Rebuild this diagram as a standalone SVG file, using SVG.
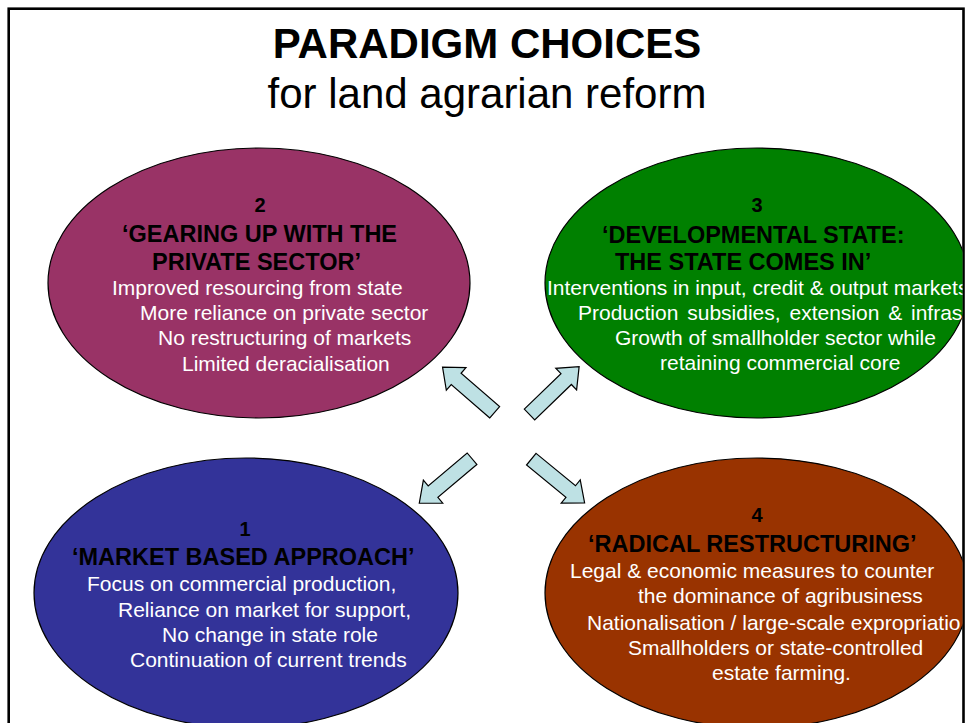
<svg xmlns="http://www.w3.org/2000/svg" width="966" height="723" viewBox="0 0 966 723">
<style>
  .ell { stroke: #000; stroke-width: 1.2; }
  .num { font-family: "Liberation Sans", Arial, sans-serif; font-weight: bold; font-size: 20px; fill: #000; text-anchor: middle; }
  .head { font-family: "Liberation Sans", Arial, sans-serif; font-weight: bold; font-size: 23.5px; fill: #000; }
  .body { font-family: "Liberation Sans", Arial, sans-serif; font-size: 21px; fill: #fff; }
  .arrow { fill: #BEE1E4; stroke: #000; stroke-width: 1.2; stroke-linejoin: miter; }
  .title { font-family: "Liberation Sans", Arial, sans-serif; font-size: 42px; fill: #000; text-anchor: middle; }
</style>
<defs>
  <clipPath id="frameClip"><rect x="0" y="0" width="962.5" height="723"/></clipPath>
  <polygon id="blockArrow" points="0,-7.5 51,-7.5 51,-15 69,0 51,15 51,7.5 0,7.5"/>
</defs>
<rect x="0" y="0" width="966" height="723" fill="#fff"/>
<rect id="frame" x="8.7" y="8.7" width="954.8" height="760" fill="none" stroke="#000" stroke-width="2.6"/>

<g id="title">
  <text class="title" x="487" y="58" font-weight="bold">PARADIGM CHOICES</text>
  <text class="title" x="487" y="108">for land agrarian reform</text>
</g>

<g clip-path="url(#frameClip)">
<g id="node-2">
  <ellipse class="ell" cx="259" cy="283" rx="211" ry="135" fill="#993366"/>
  <text class="num" x="260" y="212">2</text>
  <text class="head" x="122" y="242">‘GEARING UP WITH THE</text>
  <text class="head" x="152" y="270">PRIVATE SECTOR’</text>
  <text class="body" x="112" y="295">Improved resourcing from state</text>
  <text class="body" x="140" y="320">More reliance on private sector</text>
  <text class="body" x="158" y="345">No restructuring of markets</text>
  <text class="body" x="182" y="371">Limited deracialisation</text>
</g>

<g id="node-3">
  <ellipse class="ell" cx="757" cy="283" rx="212" ry="135" fill="#008000"/>
  <text class="num" x="757" y="212">3</text>
  <text class="head" x="602" y="243">‘DEVELOPMENTAL STATE:</text>
  <text class="head" x="615" y="270">THE STATE COMES IN’</text>
  <text class="body" x="547" y="295">Interventions in input, credit &amp; output markets</text>
  <text class="body" x="578" y="320" word-spacing="3">Production subsidies, extension &amp; infras</text>
  <text class="body" x="615" y="345">Growth of smallholder sector while</text>
  <text class="body" x="660" y="370">retaining commercial core</text>
</g>

<g id="node-1">
  <ellipse class="ell" cx="246" cy="593" rx="212" ry="135" fill="#333399"/>
  <text class="num" x="245" y="536">1</text>
  <text class="head" x="72" y="565">‘MARKET BASED APPROACH’</text>
  <text class="body" x="87" y="591">Focus on commercial production,</text>
  <text class="body" x="118" y="617">Reliance on market for support,</text>
  <text class="body" x="162" y="642">No change in state role</text>
  <text class="body" x="130" y="667">Continuation of current trends</text>
</g>

<g id="node-4">
  <ellipse class="ell" cx="757" cy="593" rx="212" ry="135" fill="#993300"/>
  <text class="num" x="757" y="522">4</text>
  <text class="head" x="588" y="552">‘RADICAL RESTRUCTURING’</text>
  <text class="body" x="570" y="578">Legal &amp; economic measures to counter</text>
  <text class="body" x="638" y="603">the dominance of agribusiness</text>
  <text class="body" x="587" y="630">Nationalisation / large-scale expropriatio</text>
  <text class="body" x="628" y="655">Smallholders or state-controlled</text>
  <text class="body" x="712" y="680">estate farming.</text>
</g>
</g>

<g id="connectors">
  <use href="#blockArrow" class="arrow" transform="translate(494.7,412.3) rotate(220.9)"/>
  <use href="#blockArrow" class="arrow" transform="translate(529.5,414.5) rotate(-44)"/>
  <use href="#blockArrow" class="arrow" transform="translate(472,458.7) rotate(139.8)"/>
  <use href="#blockArrow" class="arrow" transform="translate(531.3,459.2) rotate(39.4)"/>
</g>
</svg>
